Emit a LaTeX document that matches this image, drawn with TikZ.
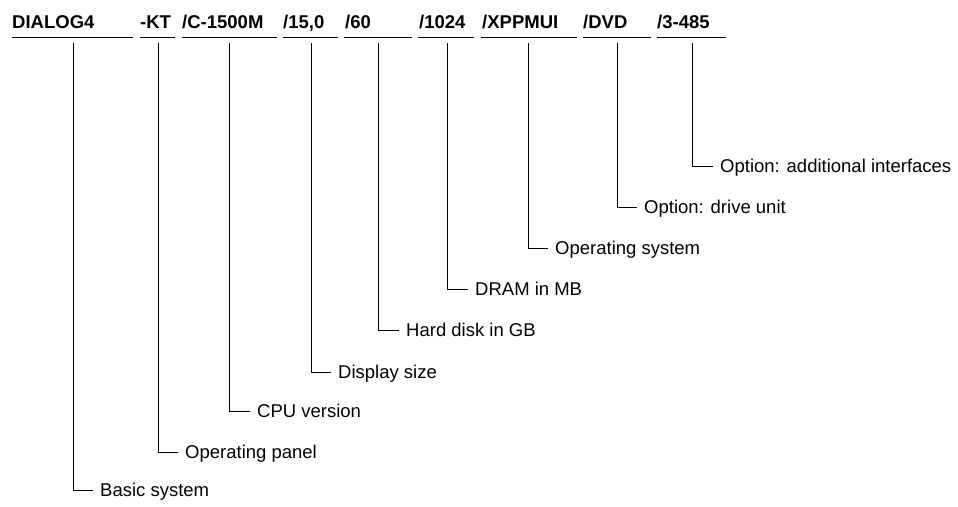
\documentclass[tikz,border=0pt]{standalone}
\usepackage{fontspec}
\setmainfont{Liberation Sans}
\begin{document}
\begin{tikzpicture}[x=1pt,y=-1pt,
  hdr/.style={anchor=base west,inner sep=0pt,font=\fontsize{18.5}{20}\selectfont\bfseries},
  lbl/.style={anchor=west,inner xsep=7pt,inner ysep=0pt,text height=13.2pt,text depth=0pt,font=\fontsize{18.5}{20}\selectfont},
  uline/.style={line width=1pt,black},
  conn/.style={line width=1pt,black}]
\fill[white] (0,0) rectangle (958,506);
\useasboundingbox (0,0) rectangle (958,506);
% header fields
\node[hdr] (h1) at (12,28) {DIALOG4};
\node[hdr] (h2) at (140,28) {-KT};
\node[hdr] (h3) at (182,28) {/C-1500M};
\node[hdr] (h4) at (283,28) {/15,0};
\node[hdr] (h5) at (345,28) {/60};
\node[hdr] (h6) at (419,28) {/1024};
\node[hdr] (h7) at (482,28) {/XPPMUI};
\node[hdr] (h8) at (583,28) {/DVD};
\node[hdr] (h9) at (657,28) {/3-485};
% underlines
\draw[uline] (12,37) -- (133,37);
\draw[uline] (140,37) -- (175,37);
\draw[uline] (182,37) -- (277,37);
\draw[uline] (283,37) -- (338,37);
\draw[uline] (344,37) -- (412,37);
\draw[uline] (418,37) -- (474,37);
\draw[uline] (481,37) -- (577,37);
\draw[uline] (583,37) -- (651,37);
\draw[uline] (657,37) -- (726,37);
% connector starts
\coordinate (t1) at (73,43);
\coordinate (t2) at (158,43);
\coordinate (t3) at (229,43);
\coordinate (t4) at (311,43);
\coordinate (t5) at (378,43);
\coordinate (t6) at (447,43);
\coordinate (t7) at (528,43);
\coordinate (t8) at (617,43);
\coordinate (t9) at (692,43);
% labels
\node[lbl] (l1) at (93,490) {Basic system};
\node[lbl] (l2) at (178,452) {Operating panel};
\node[lbl] (l3) at (250,411) {CPU version};
\node[lbl] (l4) at (331,372) {Display size};
\node[lbl] (l5) at (399,330) {Hard disk in GB};
\node[lbl] (l6) at (468,289) {DRAM in MB};
\node[lbl] (l7) at (548,248) {Operating system};
\node[lbl] (l8) at (637,207) {Option: drive unit};
\node[lbl] (l9) at (713,166) {Option: additional interfaces};
% connectors
\foreach \i in {1,...,9} {\draw[conn] (t\i) |- (l\i.west);}
\end{tikzpicture}
\end{document}
